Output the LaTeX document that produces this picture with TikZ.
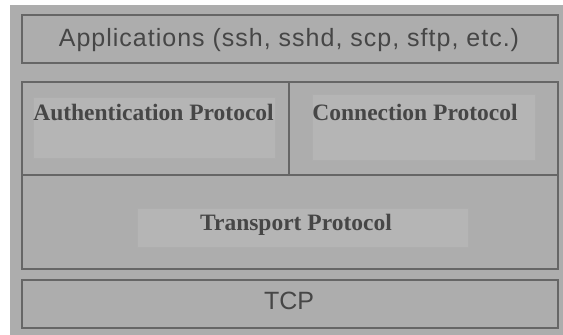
\documentclass[tikz,border=0pt]{standalone}
\usepackage{fontspec}
\setmainfont{Liberation Serif}
\newfontfamily\labelsans[LetterSpace=4]{Liberation Sans}
\newfontfamily\tcpsans{Liberation Sans}
\definecolor{panelgray}{RGB}{173,173,173}
\definecolor{padgray}{RGB}{181,181,181}
\definecolor{rulegray}{RGB}{102,102,102}
\definecolor{inkgray}{RGB}{70,70,70}
\tikzset{
  layer/.style={draw=rulegray, line width=1.6pt},
  pad/.style={fill=padgray, draw=padgray!96!black, line width=0.3pt},
  sanslabel/.style={anchor=base, text=inkgray, inner sep=0pt},
  seriflabel/.style={anchor=base, text=inkgray, inner sep=0pt,
    font=\fontsize{23.5}{26}\selectfont\bfseries},
}
\begin{document}
\begin{tikzpicture}[x=1pt,y=-1pt]
  \useasboundingbox (0,0) rectangle (563,335);
  % page background
  \fill[white] (0,0) rectangle (563,335);
  \fill[panelgray] (10,5) rectangle (563,335);

  % lighter pads behind the protocol names
  \draw[pad] (33,97) rectangle (275,158);
  \draw[pad] (312,94) rectangle (535,160);
  \draw[pad] (137,208) rectangle (468,247);

  % layer boxes
  \draw[layer] (22,15) rectangle (558,63);
  \draw[layer] (22,82) rectangle (558,175);
  \draw[layer] (289,82) -- (289,175);
  \draw[layer] (22,175) rectangle (558,269);
  \draw[layer] (22,280) rectangle (558,328);

  % labels
  \node[sanslabel, font=\labelsans\fontsize{25}{28}\selectfont] (apps) at (289,46)
    {Applications (ssh, sshd, scp, sftp, etc.)};
  \node[seriflabel] (auth) at (153.5,120) {Authentication Protocol};
  \node[seriflabel] (conn) at (415,120) {Connection Protocol};
  \node[seriflabel] (trans) at (296,230) {Transport Protocol};
  \node[sanslabel, font=\tcpsans\fontsize{25}{28}\selectfont] (tcp) at (289,309) {TCP};
\end{tikzpicture}
\end{document}
